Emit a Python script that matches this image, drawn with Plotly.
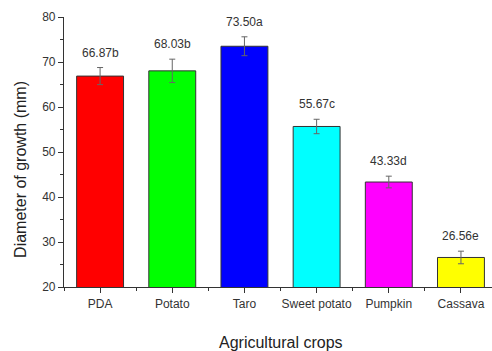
import plotly.graph_objects as go

crops = ["PDA", "Potato", "Taro", "Sweet potato", "Pumpkin", "Cassava"]
diameter = [66.87, 68.03, 73.50, 55.67, 43.33, 26.56]
errors = [1.9, 2.6, 2.1, 1.6, 1.3, 1.4]
letters = ["b", "b", "a", "c", "d", "e"]
colors = ["#ff0000", "#00ff00", "#0000ff", "#00ffff", "#ff00ff", "#ffff00"]

positions = list(range(len(crops)))
font_family = "Liberation Sans, Arial, sans-serif"

fig = go.Figure()
fig.add_trace(go.Bar(
    x=positions,
    y=diameter,
    width=0.65,
    marker=dict(color=colors, line=dict(color="#333333", width=1)),
    error_y=dict(type="data", array=errors, visible=True,
                 color="#666666", thickness=1, width=3),
    hoverinfo="skip",
))

# value + significance letter above each error bar
for x, v, e, l in zip(positions, diameter, errors, letters):
    fig.add_annotation(
        x=x, y=v + e, text=f"{v:.2f}{l}", showarrow=False,
        yanchor="bottom", yshift=6,
        font=dict(family=font_family, size=12, color="#333333"),
    )

# axis titles
fig.add_annotation(
    text="Agricultural crops", xref="paper", yref="paper",
    x=0.507, y=-0.204, xanchor="center", yanchor="middle", showarrow=False,
    font=dict(family=font_family, size=16, color="#222222"),
)
fig.add_annotation(
    text="Diameter of growth (mm)", xref="paper", yref="paper",
    x=-0.103, y=0.437, xanchor="center", yanchor="middle", showarrow=False,
    textangle=-90,
    font=dict(family=font_family, size=16, color="#222222"),
)

fig.update_layout(
    width=492, height=351,
    margin=dict(l=64, r=0, t=17, b=64),
    paper_bgcolor="white", plot_bgcolor="white",
    showlegend=False,
    font=dict(family=font_family, color="#333333"),
    xaxis=dict(
        range=[-0.5, 5.43],
        tickmode="array", tickvals=positions, ticktext=crops,
        ticks="outside", ticklen=5, tickwidth=1, tickcolor="#333333",
        minor=dict(tick0=0.5, dtick=1, ticks="outside", ticklen=3,
                   tickcolor="#333333", tickwidth=1),
        showline=True, linecolor="#333333", linewidth=1.2,
        showgrid=False, zeroline=False,
        tickfont=dict(size=12, color="#333333"),
    ),
    yaxis=dict(
        range=[20, 80],
        tickmode="linear", tick0=20, dtick=10,
        ticks="outside", ticklen=5, tickwidth=1, tickcolor="#333333",
        minor=dict(tick0=25, dtick=10, ticks="outside", ticklen=3,
                   tickcolor="#333333", tickwidth=1),
        showline=True, linecolor="#333333", linewidth=1.2,
        showgrid=False, zeroline=False,
        tickfont=dict(size=12, color="#333333"),
    ),
)

fig.write_html("out.html")
